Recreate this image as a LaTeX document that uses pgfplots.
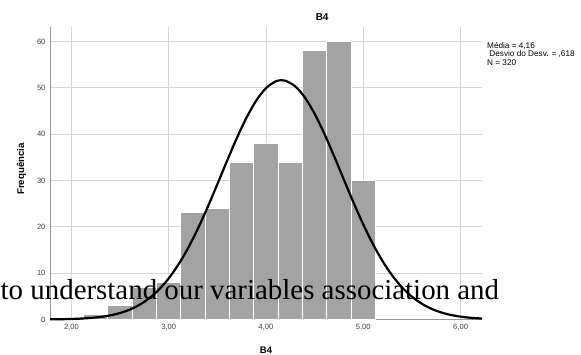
\documentclass[border=0pt]{standalone}
\usepackage{pgfplots}
\pgfplotsset{compat=1.18}
\usepackage{fontspec}
\setmainfont{Liberation Sans}
\newfontfamily\timesfont{Liberation Serif}
\definecolor{barfill}{RGB}{163,163,163}
\definecolor{gridc}{RGB}{214,214,214}
\definecolor{axisc}{RGB}{150,150,150}
\begin{document}
\begin{tikzpicture}[x=1pt,y=1pt]
\path[use as bounding box] (0,0) rectangle (581,355);
\begin{axis}[
  at={(50pt,35.5pt)}, anchor=south west,
  scale only axis, width=432pt, height=292.8pt,
  xmin=1.78, xmax=6.22, ymin=0, ymax=63.2,
  axis x line=bottom, axis y line=left,
  axis line style={axisc, line width=0.9pt, -},
  xtick={2,3,4,5,6},
  xticklabels={{2,00},{3,00},{4,00},{5,00},{6,00}},
  ytick={0,10,20,30,40,50,60},
  major tick length=0pt,
  grid=major,
  major grid style={gridc, line width=0.9pt},
  tick label style={font=\fontsize{7.6}{8}\selectfont, text=black!75},
  /pgf/number format/assume math mode=true,
  xticklabel style={yshift=-1pt},
  yticklabel style={xshift=-1pt},
  xlabel={\textbf{B4}}, xlabel style={font=\fontsize{9.5}{10}\selectfont, at={(axis description cs:0.5,0)}, anchor=center, yshift=-30.5pt},
  title={\textbf{B4}}, title style={font=\fontsize{10}{11}\selectfont, at={(axis description cs:0.63,1)}, anchor=center, yshift=4pt},
  clip=false,
]
\addplot[ybar interval, fill=barfill, draw=white, line width=0.9pt] coordinates {
(2.125,1) (2.375,3) (2.625,7) (2.875,8) (3.125,23) (3.375,24) (3.625,34)
(3.875,38) (4.125,34) (4.375,58) (4.625,60) (4.875,30) (5.125,30)
};
\addplot[black, line width=2.2pt, smooth] coordinates {
(1.78,0.031) (1.8,0.035) (1.9,0.064) (2.0,0.115) (2.1,0.200) (2.2,0.338) (2.3,0.557)
(2.4,0.895) (2.5,1.401) (2.6,2.135) (2.7,3.170) (2.8,4.585) (2.9,6.462)
(3.0,8.870) (3.1,11.863) (3.2,15.453) (3.3,19.611) (3.4,24.244) (3.5,29.197)
(3.6,34.254) (3.7,39.149) (3.8,43.584) (3.9,47.269) (4.0,49.941) (4.1,51.400)
(4.16,51.643) (4.2,51.535) (4.3,50.335) (4.4,47.892) (4.5,44.390) (4.6,40.082)
(4.7,35.255) (4.8,30.208) (4.9,25.216) (5.0,20.504) (5.1,16.241) (5.2,12.532)
(5.3,9.420) (5.4,6.899) (5.5,4.922) (5.6,3.420) (5.7,2.316) (5.8,1.527)
(5.9,0.981) (6.0,0.614) (6.1,0.374) (6.22,0.200)
};
\end{axis}
\node[rotate=90, font=\bfseries\fontsize{9.7}{10}\selectfont, inner sep=0pt] at (21.5,186) {Frequência};
\node[anchor=north west, align=left, font=\fontsize{8.2}{8.5}\selectfont, inner sep=0pt] at (487,313)
  {Média = 4,16\\\ Desvio do Desv. = ,618\\N = 320};
\node[anchor=base west, inner sep=0pt, font=\timesfont\fontsize{28.9}{30}\selectfont] at (0.5,55.7)
  {to understand our variables association and};
\end{tikzpicture}
\end{document}
